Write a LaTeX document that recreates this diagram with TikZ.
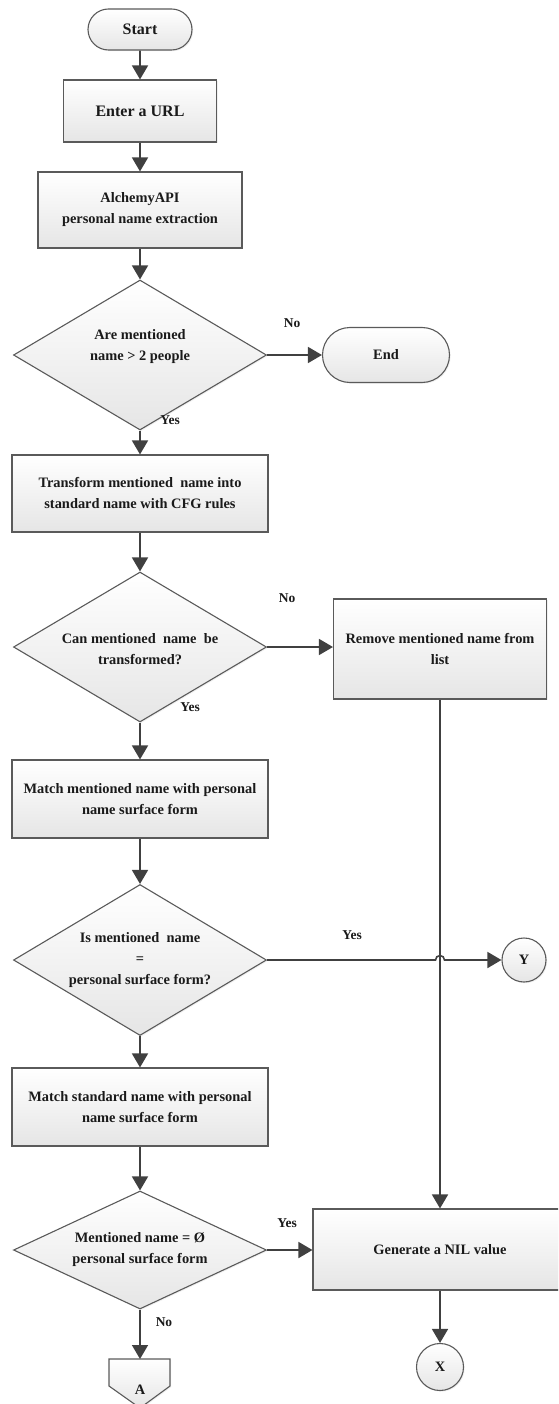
\documentclass[tikz,border=0pt]{standalone}
\usepackage{fontspec}
\setmainfont{Liberation Serif}
\usetikzlibrary{arrows.meta,shapes.geometric,shapes.misc,shadows,calc}
\definecolor{edge}{HTML}{5A5A5A}
\definecolor{wire}{HTML}{404040}
\definecolor{ink}{HTML}{1A1A1A}
\begin{document}
\begin{tikzpicture}[x=1pt,y=-1pt,
  base/.style={draw=edge, line width=1.1pt, top color=white, bottom color=black!10,
    drop shadow={opacity=0.12, shadow xshift=1.2pt, shadow yshift=-1.2pt}},
  txt/.style={font=\bfseries\fontsize{14.4}{21}\selectfont, text=ink, align=center, inner sep=0pt},
  bigtxt/.style={font=\bfseries\fontsize{16}{21}\selectfont},
  procbox/.style={base, rectangle, txt},
  terminal/.style={base, rounded rectangle, txt},
  decision/.style={base, diamond, inner sep=0pt},
  conn/.style={base, circle, txt},
  flow/.style={draw=wire, line width=1.6pt, -{Triangle[length=14pt,width=16pt]}},
  lab/.style={font=\bfseries\fontsize{13.5}{16}\selectfont, text=ink, inner sep=0pt}]

\useasboundingbox (0,0) rectangle (558,1404);
\clip (0,0) rectangle (558,1404);

% main column
\node[terminal, bigtxt, minimum width=104, minimum height=41] (start) at (140,29.5) {Start};
\node[procbox, bigtxt, minimum width=153, minimum height=62] (url) at (140,111) {Enter a URL};
\node[procbox, minimum width=204, minimum height=76] (alch) at (140,210) {AlchemyAPI\\personal name extraction};

\node[decision, minimum width=253, minimum height=150] (d1) at (140,355) {};
\node[txt] (d1t) at (140,347) {Are mentioned\\name > 2 people};
\node[terminal, minimum width=127, minimum height=55] (end) at (386,355) {End};

\node[procbox, minimum width=256, minimum height=77] (tr) at (140,493.5) {Transform mentioned~ name into\\standard name with CFG rules};

\node[decision, minimum width=253, minimum height=150] (d2) at (140,647) {};
\node[txt] (d2t) at (140,649) {Can mentioned~ name~ be\\transformed?};
\node[procbox, minimum width=213, minimum height=100] (rm) at (440,649) {Remove mentioned name from\\list};

\node[procbox, minimum width=256, minimum height=78] (mt) at (140,799) {Match mentioned name with personal\\name surface form};

\node[decision, minimum width=253, minimum height=151] (d3) at (140,960) {};
\node[txt] (d3t) at (140,960) {Is mentioned~ name\\=\\personal surface form?};
\node[conn, minimum size=44] (y) at (524,960) {Y};

\node[procbox, minimum width=256, minimum height=78] (ms) at (140,1107) {Match standard name with personal\\name surface form};

\node[decision, minimum width=253, minimum height=118] (d4) at (140,1250) {};
\node[txt] (d4t) at (140,1250) {Mentioned name = Ø\\personal surface form};
\node[procbox, minimum width=254, minimum height=81] (gen) at (440,1249.5) {Generate a NIL value};
\node[conn, minimum size=47] (x) at (440,1367) {X};

% off-page connector
\draw[base] (109,1359) -- (170,1359) -- (170,1386) -- (140,1408) -- (109,1386) -- cycle;
\coordinate (atop) at (140,1359);
\node[txt] (offa) at (140,1390) {A};

% branch labels
\node[lab] (l1) at (292,323) {No};
\node[lab] (l2) at (170,420) {Yes};
\node[lab] (l3) at (287,598) {No};
\node[lab] (l4) at (190,707) {Yes};
\node[lab] (l5) at (352,935) {Yes};
\node[lab] (l6) at (287,1223) {Yes};
\node[lab] (l7) at (164,1322) {No};

% connectors
\draw[flow] (start) -- (url);
\draw[flow] (url) -- (alch);
\draw[flow] (alch) -- (d1.north);
\draw[flow] (d1.east) -- (end.west);
\draw[flow] (d1.south) -- (tr.north);
\draw[flow] (tr) -- (d2.north);
\draw[flow] (d2.east) -- (d2.east -| rm.west);
\draw[flow] (d2.south) -- (mt.north);
\draw[flow] (mt) -- (d3.north);
\draw[flow] (rm.south) -- (gen.north);
\draw[flow] (d3.east) -- ($(d3.east -| rm.south)+(-4.5,0)$)
  arc[start angle=180, end angle=360, radius=4.5] -- (y.west);
\draw[flow] (d3.south) -- (ms.north);
\draw[flow] (ms) -- (d4.north);
\draw[flow] (d4.east) -- (d4.east -| gen.west);
\draw[flow] (d4.south) -- (atop);
\draw[flow] (gen) -- (x);
\end{tikzpicture}
\end{document}
